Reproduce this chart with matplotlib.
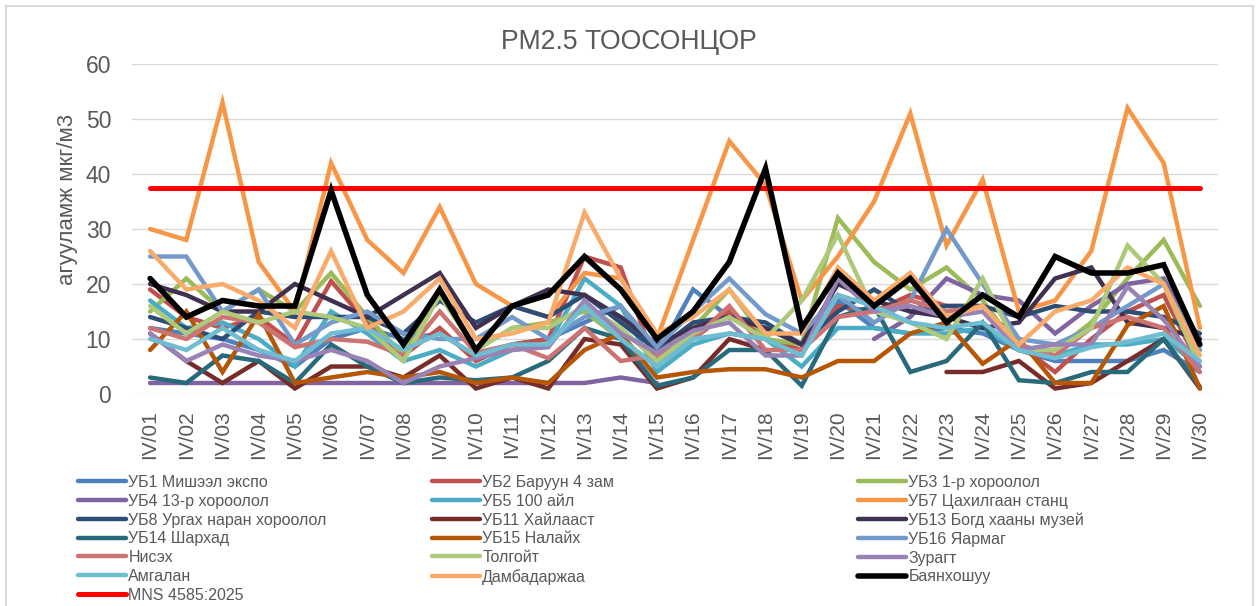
import numpy as np
import matplotlib
matplotlib.use("Agg")
import matplotlib.pyplot as plt
from matplotlib.patches import Rectangle

plt.rcParams['font.family'] = ['Liberation Sans', 'DejaVu Sans']

nan = np.nan

days = ["IV/01", "IV/02", "IV/03", "IV/04", "IV/05", "IV/06", "IV/07", "IV/08", "IV/09", "IV/10",
        "IV/11", "IV/12", "IV/13", "IV/14", "IV/15", "IV/16", "IV/17", "IV/18", "IV/19", "IV/20",
        "IV/21", "IV/22", "IV/23", "IV/24", "IV/25", "IV/26", "IV/27", "IV/28", "IV/29", "IV/30"]

ub1 = [12, 11, 10, 8, 5, 10, 12, 10, 11, 7, 9, 10, 13, 16, 7, 19, 14, 12, 9, 17, 12, 11, 12, 11, 8, 6, 6, 6, 8, 4]
ub2 = [19, 14, 12, 14, 9, 20.5, 13, 7, 12, 6, 9, 10, 25, 23, 5, 10, 15, 10, 8, 16, 15, 18, 16, 16, 9, 4, 10, 15, 18, 5]
ub3 = [15, 21, 15, 19, 15, 22, 14, 7, 19, 8, 12, 13, 15, 10, 5, 12, 19, 10, 9, 32, 24, 19, 23, 17, 8, 8, 13, 21, 28, 16]
ub4 = [2, 2, 2, 2, 2, 2, 2, 2, 2, 2, 2, 2, 2, 3, 2, nan, nan, nan, nan, nan, 10, 14, 21, 18, 17, 11, 16, 20, 21, 10]
ub5 = [17, 12, 13, 10, 5, 15, 11, 6, 8, 5, 8, 9, 21, 16, 4, 9, 11, 10, 5, 12, 12, 11, 11, 12, 8, 7, 9, 9, 10, 5]
ub7 = [30, 28, 53, 24, 15, 42, 28, 22, 34, 20, 16, 14, 22, 21, 10, 28, 46, 38, 17, 25, 35, 51, 27, 39, 15, 17, 26, 52, 42, 12]
ub8 = [14, 12, 10, 15, 14, 14, 14, 11, 17, 13, 16, 14, 18, 13, 8, 13, 14, 13, 9, 15, 19, 15, 16, 16, 14, 16, 15, 15, 14, 11]
ub11 = [11, 6, 2, 6, 1, 5, 5, 3, 7, 1, 3, 1, 10, 9, 1, 3, 10, 8, nan, nan, nan, nan, 4, 4, 6, 1, 2, 6, 10, 1]
ub13 = [20, 18, 15, 15, 20, 17, 14, 18, 22, 12, 16, 19, 18, 14, 9, 12, 14, 12, 9, 20, 17, 15, 14, 12, 13, 21, 23, 13, 12, 10]
ub14 = [3, 2, 7, 6, 2, 9, 5, 2, 3, 2.5, 3, 6, 12, 10, 1.5, 3, 8, 8, 1.5, 14, 16, 4, 6, 13, 2.5, 2, 4, 4, 10, 1.3]
ub15 = [8, 15, 4, 14.5, 2, 3, 4, 3, 4, 2, 3, 2, 8, 11, 3, 4, 4.5, 4.5, 3, 6, 6, 11, 13, 5.5, 10, 2, 2, 12.5, 16, 1]
ub16 = [25, 25, 15, 19, 9, 13, 15, 11, 10, 10, 14, 10, 14, 16, 8.5, 15, 21, 14.5, 11, 18, 13, 17, 30, 20, 10, 9, 12, 16, 20, 8]
nisekh = [12, 10, 14, 13, 8.5, 10, 9.5, 7, 15, 7.5, 9, 6.5, 12, 6, 7, 10, 16, 8, 8, 14, 15, 17, 15, 16, 9, 7, 12, 14, 12, 4]
tolgoit = [16, 11, 15, 13, 15, 14, 12, 6, 18, 8, 12, 12, 16, 12, 6, 11, 14, 10, 17, 29, 15, 13, 10, 21, 8, 8, 12, 27, 20, 5]
zuragt = [11, 6, 9, 7, 6, 8, 6, 2, 5, 6.5, 8, 8.5, 17, 11, 7.5, 11.5, 13, 7, 7, 21, 15, 16, 14, 15, 8, 9, 9, 19.5, 13.5, 5]
amgalan = [10, 8, 12, 8, 6, 11, 12, 8, 11, 7, 9, 9, 16, 10, 5, 10, 11, 10, 7, 18, 16, 13, 12, 13, 8, 6.5, 8.5, 9.5, 11, 6]
dambadarjaa = [26, 19, 20, 17, 12, 26, 12, 15, 21, 10, 11, 13, 33, 21, 11, 14, 19, 11, 11, 23, 17, 22, 14, 16, 9, 15, 17, 23, 20, 7]
bayankhoshuu = [21, 14, 17, 16, 16, 37, 18, 9, 19, 8, 16, 18, 25, 19, 10, 15, 24, 41, 12, 22, 16, 21, 13, 18, 14, 25, 22, 22, 23.5, 9]
mns_limit = [37.5] * 30

series = [
    ("УБ1 Мишээл экспо", ub1, "#4F81BD"),
    ("УБ2 Баруун 4 зам", ub2, "#C0504D"),
    ("УБ3 1-р хороолол", ub3, "#9BBB59"),
    ("УБ4 13-р хороолол", ub4, "#8064A2"),
    ("УБ5 100 айл", ub5, "#4BACC6"),
    ("УБ7 Цахилгаан станц", ub7, "#F79646"),
    ("УБ8 Ургах наран хороолол", ub8, "#2C4D75"),
    ("УБ11 Хайлааст", ub11, "#772C2A"),
    ("УБ13 Богд хааны музей", ub13, "#403152"),
    ("УБ14 Шархад", ub14, "#276A7C"),
    ("УБ15 Налайх", ub15, "#B65708"),
    ("УБ16 Яармаг", ub16, "#729ACA"),
    ("Нисэх", nisekh, "#CD7371"),
    ("Толгойт", tolgoit, "#AFC97A"),
    ("Зурагт", zuragt, "#9983B5"),
    ("Амгалан", amgalan, "#6FBDD1"),
    ("Дамбадаржаа", dambadarjaa, "#F9AB6B"),
    ("Баянхошуу", bayankhoshuu, "#000000"),
    ("MNS 4585:2025", mns_limit, "#FF0000"),
]

W, H = 1259, 606
fig = plt.figure(figsize=(W / 100, H / 100), dpi=100)
ax = fig.add_axes([132 / W, 1 - 394 / H, (1218 - 132) / W, (394 - 64) / H])

x = np.arange(len(days))
handles = {}
for i, (name, vals, col) in enumerate(series):
    lw = 3.2
    z = 2 + i * 0.01
    if name == "Баянхошуу":
        lw = 4.0
        z = 3
    elif name.startswith("MNS"):
        lw = 3.6
        z = 2.9
    ln, = ax.plot(x, vals, color=col, lw=lw, solid_capstyle='round',
                  solid_joinstyle='miter', zorder=z, label=name)
    handles[name] = ln

ax.set_xlim(-0.5, len(days) - 0.5)
ax.set_ylim(0, 60)
ax.set_yticks(range(0, 61, 10))
ax.set_xticks(x)
ax.set_xticklabels(days, rotation=90)
ax.tick_params(axis='both', length=0, colors='#595959')
ax.tick_params(axis='y', labelsize=16.5, pad=15)
ax.tick_params(axis='x', labelsize=15, pad=12)
for s in ax.spines.values():
    s.set_visible(False)
ax.grid(axis='y', color='#D9D9D9', lw=1.0, zorder=0)
ax.set_axisbelow(True)

fig.text(68 / W, 1 - 199 / H, "агууламж мкг/м3", fontsize=16, color='#595959',
         rotation=90, ha='center', va='center')
fig.text(629 / W, 1 - 42 / H, "PM2.5 ТООСОНЦОР", fontsize=19.2, color='#595959',
         ha='center', va='center')

# legend in three columns (row-major order as in reference)
cols = [
    ["УБ1 Мишээл экспо", "УБ4 13-р хороолол", "УБ8 Ургах наран хороолол", "УБ14 Шархад",
     "Нисэх", "Амгалан", "MNS 4585:2025"],
    ["УБ2 Баруун 4 зам", "УБ5 100 айл", "УБ11 Хайлааст", "УБ15 Налайх", "Толгойт", "Дамбадаржаа"],
    ["УБ3 1-р хороолол", "УБ7 Цахилгаан станц", "УБ13 Богд хааны музей", "УБ16 Яармаг",
     "Зурагт", "Баянхошуу"],
]
col_x = [78, 432, 858]
for cx, names in zip(col_x, cols):
    fig.legend([handles[n] for n in names], names, loc='upper left',
               bbox_to_anchor=(cx / W, 1 - 475 / H), bbox_transform=fig.transFigure,
               frameon=False, fontsize=11.5, labelspacing=0.235, handlelength=3.0,
               handletextpad=0.15, borderpad=0, borderaxespad=0, labelcolor='#595959')

fig.patches.append(Rectangle((6 / W, -0.05), (1253 - 6) / W, 1.05 - 6 / H,
                             transform=fig.transFigure, fill=False,
                             edgecolor='#D9D9D9', lw=1.5))

fig.savefig("out.png", dpi=100)
